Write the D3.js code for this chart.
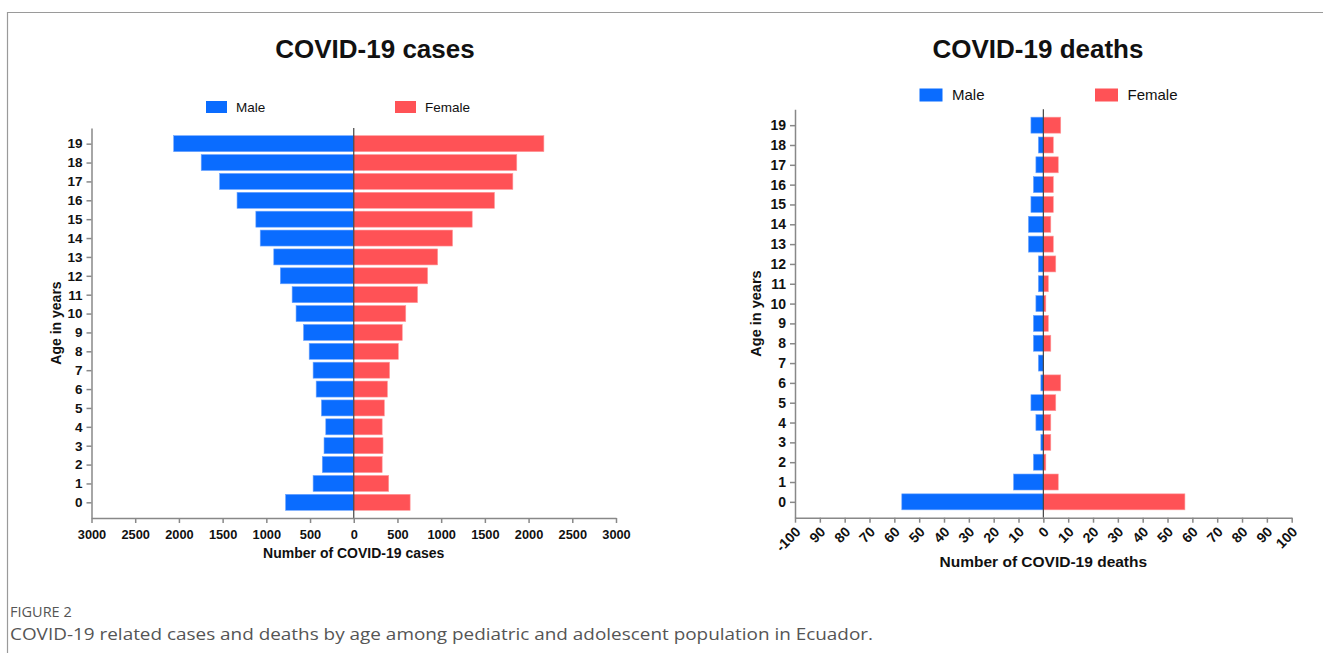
<!DOCTYPE html>
<html>
<head>
<meta charset="utf-8">
<script src="https://cdn.jsdelivr.net/npm/d3@7"></script>
<style>
  html, body { margin: 0; padding: 0; background: #fff; }
  svg { display: block; }
  .tick text { font-family: "Liberation Sans", Arial, sans-serif; font-weight: bold; fill: #111; }
</style>
</head>
<body>
<svg id="fig" width="1323" height="653"></svg>
<script>
// Age groups (years)
const ages = [0, 1, 2, 3, 4, 5, 6, 7, 8, 9, 10, 11, 12, 13, 14, 15, 16, 17, 18, 19];

// COVID-19 cases by age and sex
const casesMale   = [780, 465, 360, 340, 320, 370, 430, 465, 510, 575, 660, 705, 840, 915, 1070, 1120, 1335, 1535, 1745, 2060];
const casesFemale = [645, 400, 325, 335, 325, 350, 385, 410, 510, 555, 595, 730, 845, 960, 1130, 1355, 1610, 1820, 1865, 2175];

// COVID-19 deaths by age and sex
const deathsMale   = [57, 12, 4, 1, 3, 5, 1, 2, 4, 4, 3, 2, 2, 6, 6, 5, 4, 3, 2, 5];
const deathsFemale = [57, 6, 1, 3, 3, 5, 7, 0, 3, 2, 1, 2, 5, 4, 3, 4, 4, 6, 4, 7];

// Axis ticks and their labels
const casesTicks = [-3000, -2500, -2000, -1500, -1000, -500, 0, 500, 1000, 1500, 2000, 2500, 3000];
const casesTickLabels = ["3000", "2500", "2000", "1500", "1000", "500", "0", "500", "1000", "1500", "2000", "2500", "3000"];
const deathsTicks = [-100, -90, -80, -70, -60, -50, -40, -30, -20, -10, 0, 10, 20, 30, 40, 50, 60, 70, 80, 90, 100];
const deathsTickLabels = ["-100", "90", "80", "70", "60", "50", "40", "30", "20", "10", "0", "10", "20", "30", "40", "50", "60", "70", "80", "90", "100"];

const seriesNames = ["Male", "Female"];
const MALE = "#0a6cff", FEMALE = "#ff5256";
const FONT = "'Liberation Sans', Arial, Helvetica, sans-serif";

const svg = d3.select("#fig");

// page frame
svg.append("path")
  .attr("d", "M7.5,653 V12.5 H1323")
  .attr("fill", "none").attr("stroke", "#9a9a9a").attr("stroke-width", 1.2);

function pyramid(o) {
  const g = svg.append("g");
  const x = d3.scaleLinear().domain(o.domain).range([o.left, o.right]);
  const y = d3.scalePoint().domain(ages).range([o.bottom, o.top]).padding(o.pad);
  const bh = o.barH;

  // title
  g.append("text").attr("x", o.titleX).attr("y", o.titleY)
    .attr("text-anchor", "middle").attr("font-family", FONT)
    .attr("font-weight", "bold").attr("font-size", 26).attr("fill", "#111")
    .text(o.title);

  // legend
  const lg = g.selectAll("g.leg").data(seriesNames).join("g")
    .attr("transform", (d, i) => `translate(${o.legX[i]},${o.legY})`);
  lg.append("rect").attr("x", 0).attr("y", -o.swH / 2).attr("width", o.swW).attr("height", o.swH)
    .attr("fill", (d, i) => i === 0 ? MALE : FEMALE);
  lg.append("text").attr("x", o.swW + o.legGap).attr("y", 0).attr("dy", "0.35em")
    .attr("font-family", FONT).attr("font-size", o.legFont).attr("fill", "#111")
    .text(d => d);

  // bars
  g.append("g").selectAll("rect").data(ages).join("rect")
    .attr("x", d => x(-o.male[d])).attr("width", d => x(0) - x(-o.male[d]))
    .attr("y", d => y(d) - bh / 2).attr("height", bh)
    .attr("fill", MALE).attr("stroke", "#6fa6ff").attr("stroke-width", 0.6);
  g.append("g").selectAll("rect").data(ages).join("rect")
    .attr("x", x(0)).attr("width", d => x(o.female[d]) - x(0))
    .attr("y", d => y(d) - bh / 2).attr("height", bh)
    .attr("fill", FEMALE).attr("stroke", "#ff9a9c").attr("stroke-width", 0.6)
    .attr("display", d => o.female[d] > 0 ? null : "none");

  // zero line
  g.append("line").attr("x1", x(0)).attr("x2", x(0)).attr("y1", o.top).attr("y2", o.bottom)
    .attr("stroke", "#444").attr("stroke-width", 1.2);

  // y axis
  const ya = g.append("g").attr("transform", `translate(${o.left},0)`)
    .call(d3.axisLeft(y).tickSize(5).tickSizeOuter(0).tickPadding(4));
  ya.select(".domain").attr("stroke", "#888").attr("stroke-width", 1.5);
  ya.selectAll(".tick line").attr("stroke", "#888").attr("stroke-width", 1.5);
  ya.selectAll(".tick text").attr("font-size", o.yFont);

  // x axis
  const xa = g.append("g").attr("transform", `translate(0,${o.bottom})`)
    .call(d3.axisBottom(x).tickValues(o.ticks).tickFormat((d, i) => o.tickLabels[i])
      .tickSize(5).tickSizeOuter(0).tickPadding(7));
  xa.select(".domain").attr("stroke", "#888").attr("stroke-width", 1.5);
  xa.selectAll(".tick line").attr("stroke", "#888").attr("stroke-width", 1.5);
  xa.selectAll(".tick text").attr("font-size", o.xFont);
  if (o.rotate) {
    xa.selectAll(".tick text")
      .attr("text-anchor", "end").attr("dy", null).attr("y", 0)
      .attr("transform", "translate(6,15) rotate(-45)");
  }

  // axis titles
  g.append("text").attr("x", x(0)).attr("y", o.xTitleY).attr("text-anchor", "middle")
    .attr("font-family", FONT).attr("font-weight", "bold").attr("font-size", o.xTitleFont)
    .attr("fill", "#111").text(o.xTitle);
  g.append("text")
    .attr("transform", `translate(${o.yTitleX},${(o.top + o.bottom) / 2}) rotate(-90)`)
    .attr("text-anchor", "middle").attr("font-family", FONT).attr("font-weight", "bold")
    .attr("font-size", o.yTitleFont).attr("fill", "#111").text("Age in years");
}

pyramid({
  title: "COVID-19 cases", titleX: 375, titleY: 58,
  domain: [-3000, 3000], left: 91.5, right: 616, top: 128, bottom: 518, pad: 0.83, barH: 16,
  male: casesMale, female: casesFemale,
  ticks: casesTicks, tickLabels: casesTickLabels, rotate: false,
  legX: [206, 395], legY: 107, swW: 21, swH: 12, legGap: 9, legFont: 13.5,
  yFont: 13.5, xFont: 12.8,
  xTitle: "Number of COVID-19 cases", xTitleY: 558, xTitleFont: 14,
  yTitleX: 61, yTitleFont: 14
});

pyramid({
  title: "COVID-19 deaths", titleX: 1038, titleY: 58,
  domain: [-100, 100], left: 795, right: 1291.7, top: 109.3, bottom: 517.7, pad: 0.8, barH: 16,
  male: deathsMale, female: deathsFemale,
  ticks: deathsTicks, tickLabels: deathsTickLabels, rotate: true,
  legX: [919.5, 1095], legY: 95, swW: 23, swH: 13, legGap: 9.5, legFont: 15,
  yFont: 14, xFont: 14,
  xTitle: "Number of COVID-19 deaths", xTitleY: 567, xTitleFont: 15.5,
  yTitleX: 761, yTitleFont: 14.5
});

// caption
svg.append("text").attr("x", 10).attr("y", 617)
  .attr("font-family", "'Open Sans', 'Noto Sans', sans-serif").attr("font-size", 14.5)
  .attr("fill", "#555").text("FIGURE 2");
svg.append("text").attr("x", 10).attr("y", 640)
  .attr("font-family", "'Open Sans', 'Noto Sans', sans-serif").attr("font-size", 16.5)
  .attr("fill", "#555").attr("textLength", 863).attr("lengthAdjust", "spacingAndGlyphs")
  .text("COVID-19 related cases and deaths by age among pediatric and adolescent population in Ecuador.");
</script>
</body>
</html>
